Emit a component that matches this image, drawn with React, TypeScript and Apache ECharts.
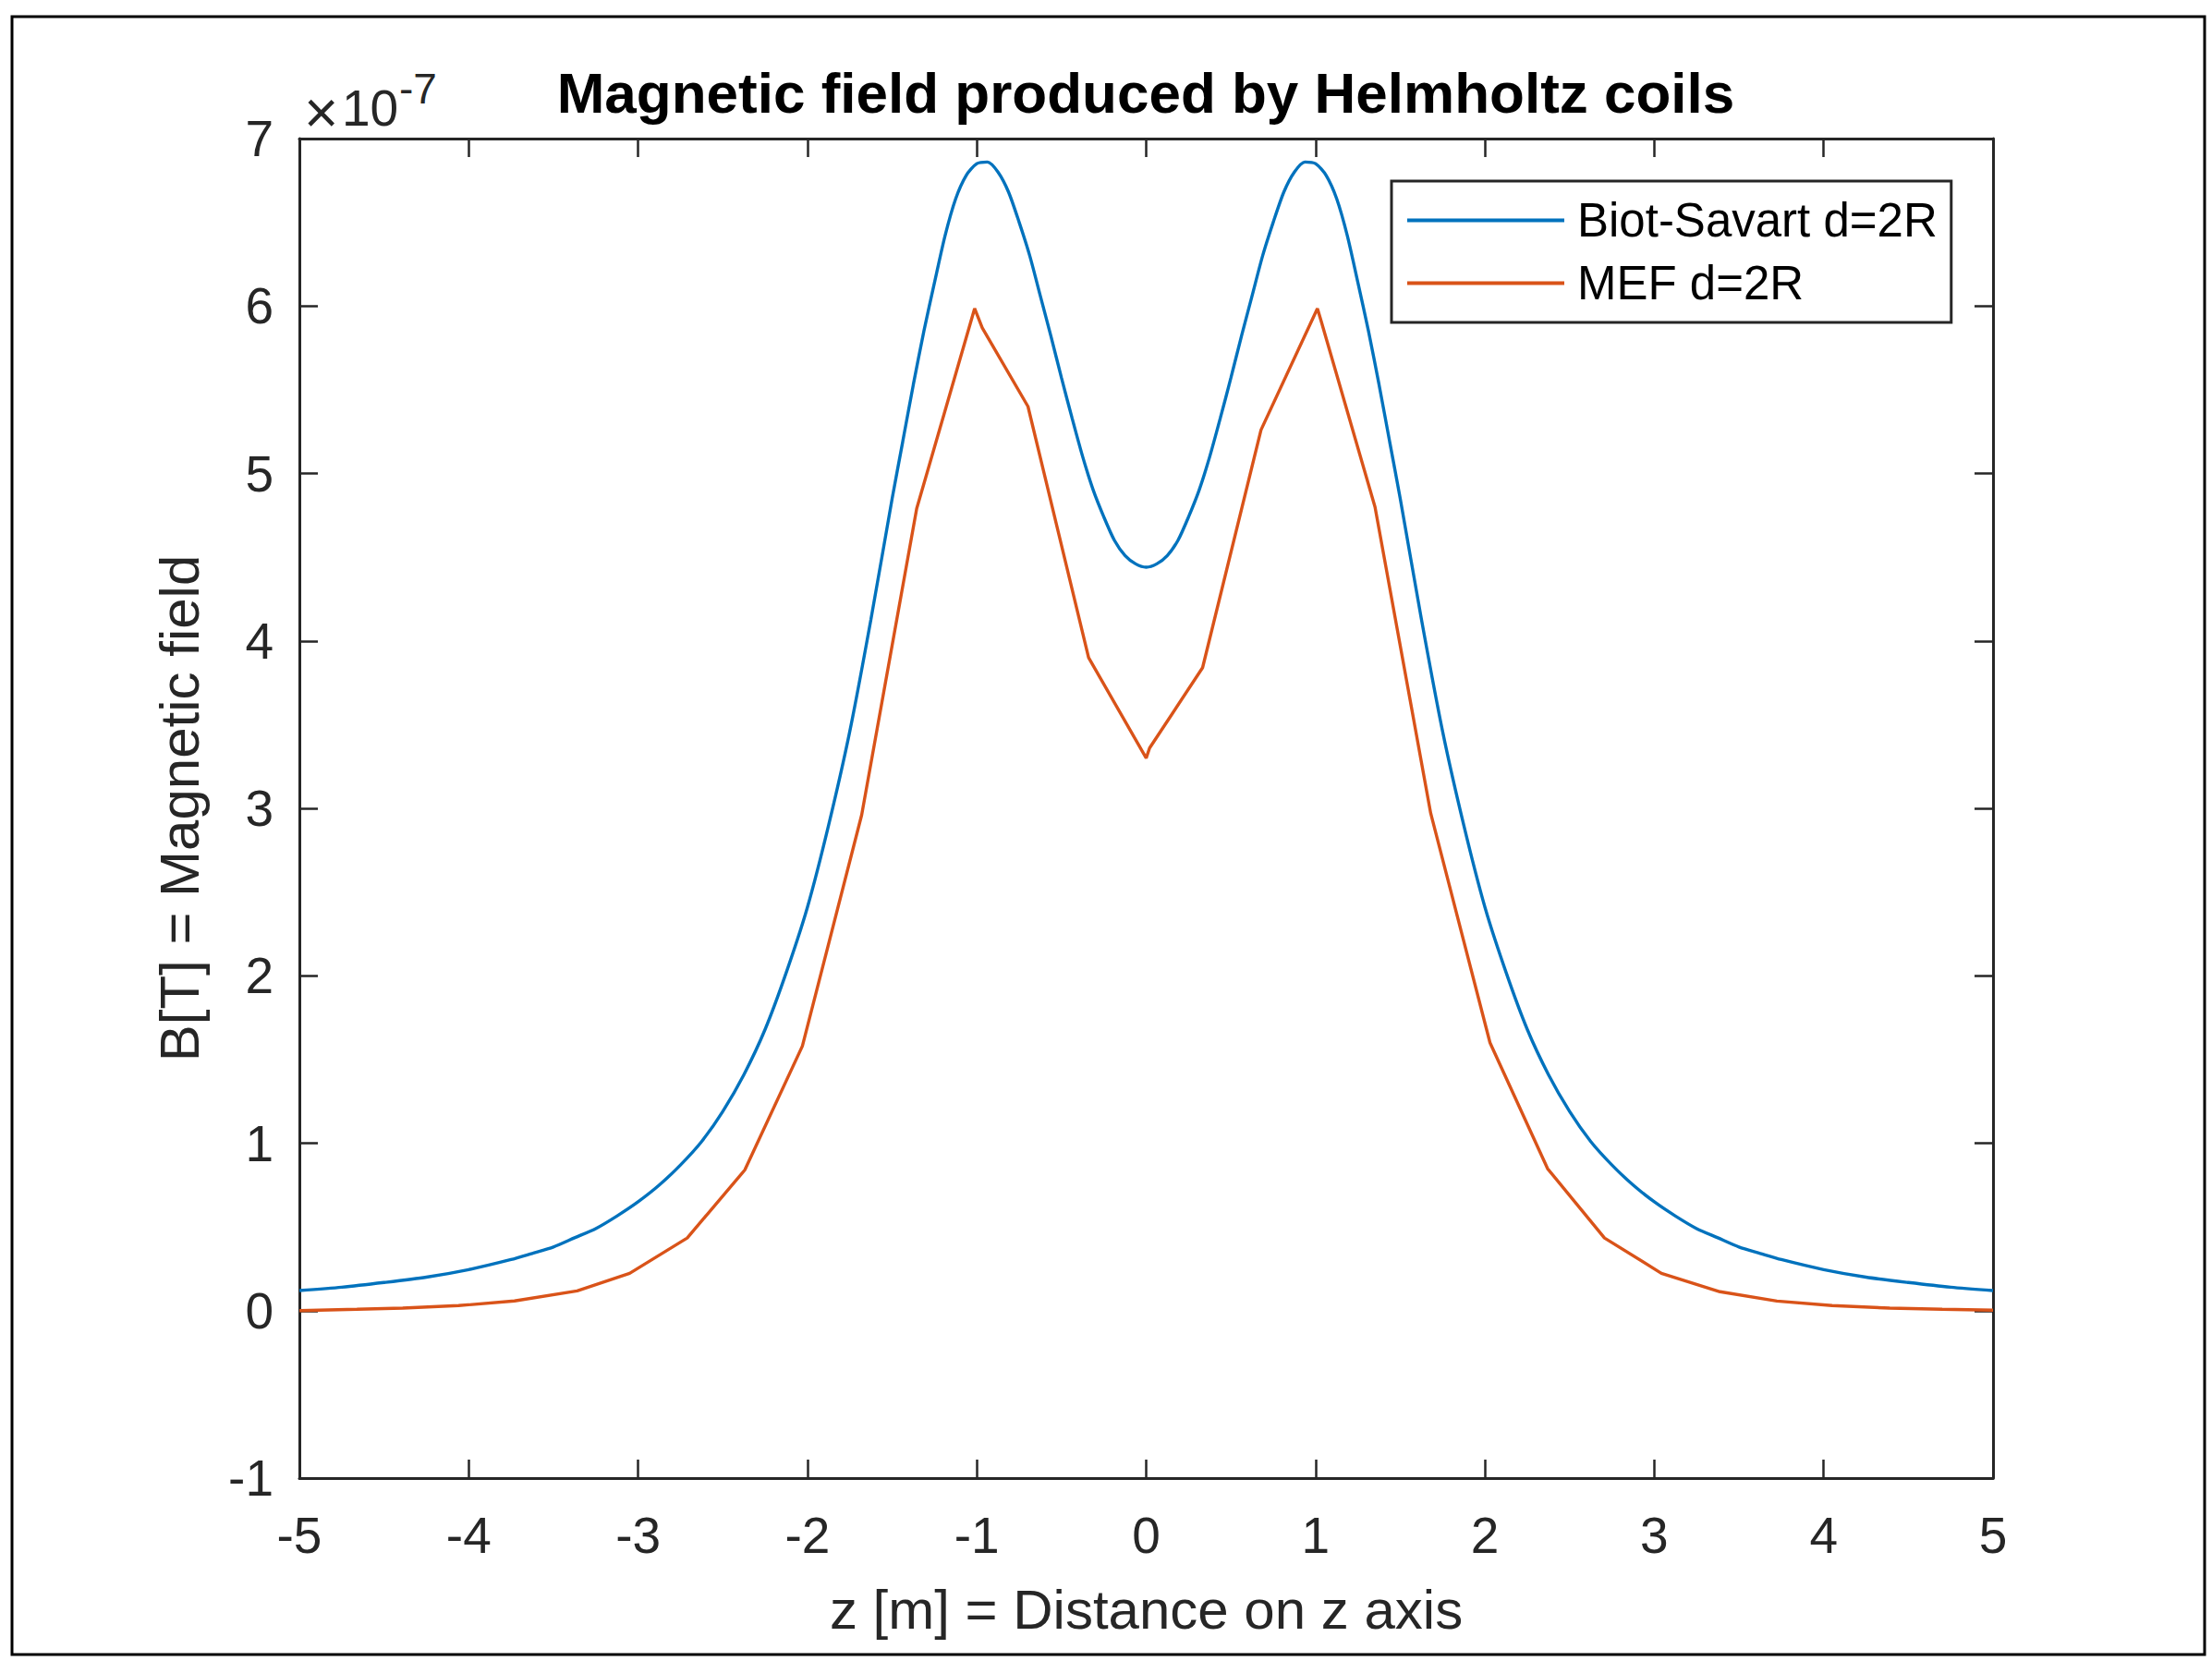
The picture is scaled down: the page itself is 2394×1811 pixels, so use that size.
import * as echarts from "echarts";
import { useEffect, useRef } from "react";

// Biot-Savart curve (z in m, B in units of 1e-7 T)
const biotZ = [
	-5, -4.75, -4.5, -4.25, -4, -3.75, -3.625, -3.5, -3.375, -3.25, -3.125, -3,
	-2.875, -2.75, -2.625, -2.5, -2.375, -2.25, -2.125, -2, -1.875, -1.75,
	-1.625, -1.5, -1.4375, -1.375, -1.3125, -1.25, -1.1875, -1.125, -1.0625, -1,
	-0.9375, -0.875, -0.8125, -0.75, -0.6875, -0.625, -0.5625, -0.5, -0.4375,
	-0.375, -0.3125, -0.25, -0.1875, -0.125, -0.0625, 0, 0.0625, 0.125, 0.1875,
	0.25, 0.3125, 0.375, 0.4375, 0.5, 0.5625, 0.625, 0.6875, 0.75, 0.8125, 0.875,
	0.9375, 1, 1.0625, 1.125, 1.1875, 1.25, 1.3125, 1.375, 1.4375, 1.5, 1.625,
	1.75, 1.875, 2, 2.125, 2.25, 2.375, 2.5, 2.625, 2.75, 2.875, 3, 3.125, 3.25,
	3.375, 3.5, 3.625, 3.75, 4, 4.25, 4.5, 4.75, 5,
];
const biotB = [
	0.12, 0.14, 0.168, 0.2, 0.245, 0.305, 0.342, 0.38, 0.435, 0.49, 0.565, 0.65,
	0.75, 0.87, 1.01, 1.19, 1.41, 1.68, 2.02, 2.41, 2.9, 3.46, 4.13, 4.85, 5.19,
	5.53, 5.85, 6.14, 6.42, 6.64, 6.78, 6.85, 6.86, 6.8, 6.68, 6.5, 6.3, 6.06,
	5.82, 5.57, 5.33, 5.1, 4.9, 4.74, 4.6, 4.51, 4.46, 4.44, 4.46, 4.51, 4.6,
	4.74, 4.9, 5.1, 5.33, 5.57, 5.82, 6.06, 6.3, 6.5, 6.68, 6.8, 6.86, 6.85,
	6.78, 6.64, 6.42, 6.14, 5.85, 5.53, 5.19, 4.85, 4.13, 3.46, 2.9, 2.41, 2.02,
	1.68, 1.41, 1.19, 1.01, 0.87, 0.75, 0.65, 0.565, 0.49, 0.435, 0.38, 0.342,
	0.305, 0.245, 0.2, 0.168, 0.14, 0.12,
];

// MEF curve vertices
const mefZ = [
	-5, -4.66, -4.39, -4.06, -3.73, -3.36, -3.05, -2.71, -2.37, -2.03, -1.68,
	-1.355, -1.013, -0.968, -0.698, -0.34, 0, 0.02, 0.333, 0.678, 1.011, 1.033,
	1.351, 1.68, 2.03, 2.37, 2.706, 3.042, 3.388, 3.724, 4.05, 4.39, 4.7, 5,
];
const mefB = [
	0, 0.008, 0.015, 0.03, 0.058, 0.118, 0.223, 0.434, 0.84, 1.58, 2.96, 4.79,
	5.985, 5.87, 5.4, 3.9, 3.3, 3.36, 3.84, 5.26, 5.985, 5.91, 4.8, 2.97, 1.6,
	0.848, 0.434, 0.223, 0.113, 0.057, 0.03, 0.015, 0.008, 0.003,
];

const seriesNames = ["Biot-Savart d=2R", "MEF d=2R"];
const colors = ["#0072BD", "#D95319"];

const title = "Magnetic field produced by Helmholtz coils";
const xName = "z [m] = Distance on z axis";
const yName = "B[T] = Magnetic field";

export default function App() {
	const chartRef = useRef<HTMLDivElement>(null);

	useEffect(() => {
		if (!chartRef.current) return;
		const chart = echarts.init(chartRef.current, null, { renderer: "svg" });
		const axisColor = "#262626";
		const font = "'Liberation Sans', Arial, Helvetica, sans-serif";

		const axisBase = {
			type: "value",
			axisLine: {
				show: true,
				onZero: false,
				lineStyle: { color: axisColor, width: 3 },
			},
			axisTick: {
				show: true,
				inside: true,
				length: 20,
				lineStyle: { color: axisColor, width: 2.5 },
			},
			splitLine: { show: false },
		};

		chart.setOption({
			animation: false,
			backgroundColor: "#fff",
			textStyle: { fontFamily: font },
			title: {
				text: title,
				left: 1235,
				top: 64,
				textAlign: "center",
				textStyle: {
					fontFamily: font,
					fontSize: 62,
					fontWeight: "bold",
					color: "#000",
				},
			},
			legend: {
				orient: "vertical",
				left: 1506,
				top: 196,
				padding: [17, 15, 17, 17],
				icon: "rect",
				itemWidth: 170,
				itemHeight: 4,
				itemGap: 17,
				borderColor: axisColor,
				borderWidth: 3,
				backgroundColor: "#fff",
				textStyle: {
					fontFamily: font,
					fontSize: 51,
					color: "#000",
					padding: [0, 0, 0, 9],
				},
				data: seriesNames,
			},
			grid: { left: 324, top: 150, width: 1833, height: 1450 },
			xAxis: [
				{
					...axisBase,
					position: "bottom",
					min: -5,
					max: 5,
					interval: 1,
					name: xName,
					nameLocation: "middle",
					nameGap: 112,
					nameTextStyle: { fontFamily: font, fontSize: 60, color: axisColor },
					axisLabel: {
						fontFamily: font,
						fontSize: 55,
						color: axisColor,
						margin: 34,
					},
				},
				{
					...axisBase,
					position: "top",
					min: -5,
					max: 5,
					interval: 1,
					axisLabel: { show: false },
				},
			],
			yAxis: [
				{
					...axisBase,
					position: "left",
					min: -1,
					max: 7,
					interval: 1,
					name: yName,
					nameLocation: "middle",
					nameGap: 100,
					nameTextStyle: { fontFamily: font, fontSize: 60, color: axisColor },
					axisLabel: {
						fontFamily: font,
						fontSize: 55,
						color: axisColor,
						margin: 28,
					},
				},
				{
					...axisBase,
					position: "right",
					min: -1,
					max: 7,
					interval: 1,
					axisLabel: { show: false },
				},
			],
			series: [
				{
					name: seriesNames[0],
					type: "line",
					xAxisIndex: 0,
					yAxisIndex: 0,
					data: biotZ.map((z, i) => [z, biotB[i]]),
					smooth: 0.25,
					symbol: "none",
					color: colors[0],
					lineStyle: { color: colors[0], width: 3.4 },
				},
				{
					name: seriesNames[1],
					type: "line",
					xAxisIndex: 0,
					yAxisIndex: 0,
					data: mefZ.map((z, i) => [z, mefB[i]]),
					symbol: "none",
					color: colors[1],
					lineStyle: { color: colors[1], width: 3.4 },
				},
			],
			graphic: [
				{
					type: "rect",
					shape: { x: 13, y: 18, width: 2373, height: 1773 },
					style: { fill: "none", stroke: "#000", lineWidth: 3 },
					silent: true,
				},
				{
					type: "text",
					x: 329,
					y: 122,
					style: {
						text: "×",
						fontFamily: font,
						fontSize: 64,
						fill: axisColor,
						align: "left",
						verticalAlign: "middle",
					},
				},
				{
					type: "text",
					x: 370,
					y: 117,
					style: {
						text: "10",
						fontFamily: font,
						fontSize: 55,
						fill: axisColor,
						align: "left",
						verticalAlign: "middle",
					},
				},
				{
					type: "text",
					x: 432,
					y: 96,
					style: {
						text: "-7",
						fontFamily: font,
						fontSize: 46,
						fill: axisColor,
						align: "left",
						verticalAlign: "middle",
					},
				},
			],
		});

		return () => {
			chart.dispose();
		};
	}, []);

	return (
		<div
			ref={chartRef}
			style={{ position: "absolute", left: 0, top: 0, width: 2394, height: 1811 }}
		/>
	);
}
